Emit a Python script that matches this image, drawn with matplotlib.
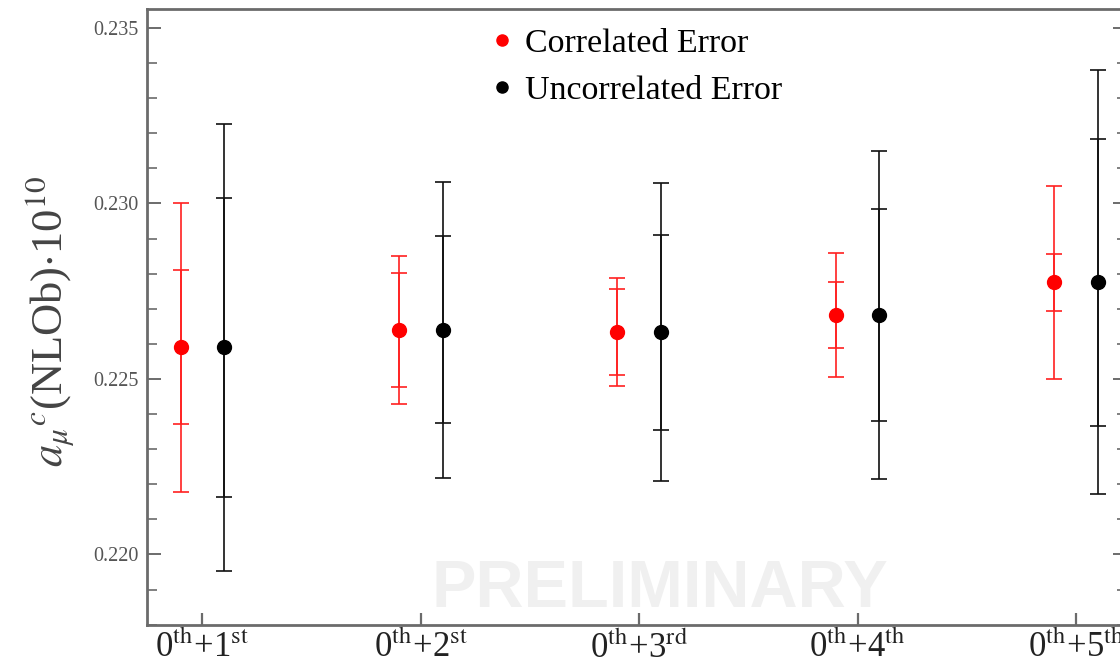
"""Muon g-2 charm NLO(b) contribution: correlated vs uncorrelated errors."""

import matplotlib

matplotlib.use("Agg")
import matplotlib.pyplot as plt
import numpy as np

# order combinations on the x axis
categories = [
    r"0$^{\rm th}$+1$^{\rm st}$",
    r"0$^{\rm th}$+2$^{\rm st}$",
    r"0$^{\rm th}$+3$^{\rm rd}$",
    r"0$^{\rm th}$+4$^{\rm th}$",
    r"0$^{\rm th}$+5$^{\rm th}$",
]

central = [0.22590, 0.22640, 0.22633, 0.22682, 0.22775]

# correlated error (red): inner and outer bars
corr_inner = [0.00219, 0.00162, 0.00122, 0.00094, 0.00082]
corr_outer = [0.00412, 0.00210, 0.00154, 0.00176, 0.00275]

# uncorrelated error (black): inner and outer bars
uncorr_inner = [0.00426, 0.00266, 0.00278, 0.00302, 0.00408]
uncorr_outer = [0.00637, 0.00422, 0.00424, 0.00467, 0.00604]

yticks = [0.220, 0.225, 0.230, 0.235]

plt.rcParams["font.family"] = ["Liberation Serif", "DejaVu Serif"]
plt.rcParams["mathtext.fontset"] = "stix"

SPINE = "#6b6b6b"
TICKLAB = "#555555"

fig = plt.figure(figsize=(11.2, 6.62), dpi=100)
ax = fig.add_axes([146.7 / 1120, 1 - 624.7 / 662, (1127 - 146.7) / 1120, (624.7 - 9.3) / 662])

x = np.arange(len(categories))
off = 0.1


def draw_series(xs, inner, outer, color, line_color, label):
    ax.errorbar(xs, central, yerr=outer, fmt="none", ecolor=line_color,
                elinewidth=1.2, capsize=5.5, capthick=1.2, zorder=2)
    ax.errorbar(xs, central, yerr=inner, fmt="none", ecolor=line_color,
                elinewidth=1.2, capsize=5.5, capthick=1.2, zorder=2)
    ax.plot(xs, central, "o", color=color, markersize=10, linestyle="none",
            zorder=3, label=label)


draw_series(x - off, corr_inner, corr_outer, "#ff0000", "#ff2020", "Correlated Error")
draw_series(x + off, uncorr_inner, uncorr_outer, "#000000", "#111111", "Uncorrelated Error")

ax.set_xlim(-0.255, 4.234)
ax.set_ylim(0.2180, 0.23553)

ax.set_xticks(x)
ax.set_xticklabels(categories, fontsize=25, color="#222222")
ax.set_yticks(yticks)
ax.set_yticklabels([f"{v:.3f}" for v in yticks], fontsize=14.5, color=TICKLAB)
ax.yaxis.set_minor_locator(matplotlib.ticker.MultipleLocator(0.001))

ax.tick_params(axis="y", which="major", direction="in", length=10, width=1.4,
               color=SPINE, left=True, right=True, pad=6)
ax.tick_params(axis="y", which="minor", direction="in", length=7, width=1.2,
               color=SPINE, left=True, right=True)
ax.tick_params(axis="x", which="major", direction="in", length=9, width=1.6,
               color=SPINE, bottom=True, top=False, pad=5)

for side in ax.spines.values():
    side.set_color(SPINE)
    side.set_linewidth(2.0)

fig.text(50 / 1120, 1 - 322 / 662, r"$a_{\mu}{}^{c}$(NLOb)$\cdot$10$^{10}$",
         rotation=90, ha="center", va="center", fontsize=32, color="#444444")

# watermark
ax.text(0.5235, 0.056, "PRELIMINARY", transform=ax.transAxes, ha="center", va="center",
        fontsize=48, fontweight="bold", family="Liberation Sans", color="#f0f0f0", zorder=0)

ax.legend(loc="upper left", bbox_to_anchor=(492 / 1120, 1 - 28 / 662),
          bbox_transform=fig.transFigure, frameon=False, fontsize=24.5,
          borderpad=0, borderaxespad=0, handlelength=0.6, handletextpad=0.36,
          labelspacing=0.48, markerscale=0.8)

fig.savefig("out.png", dpi=100)
plt.close(fig)
